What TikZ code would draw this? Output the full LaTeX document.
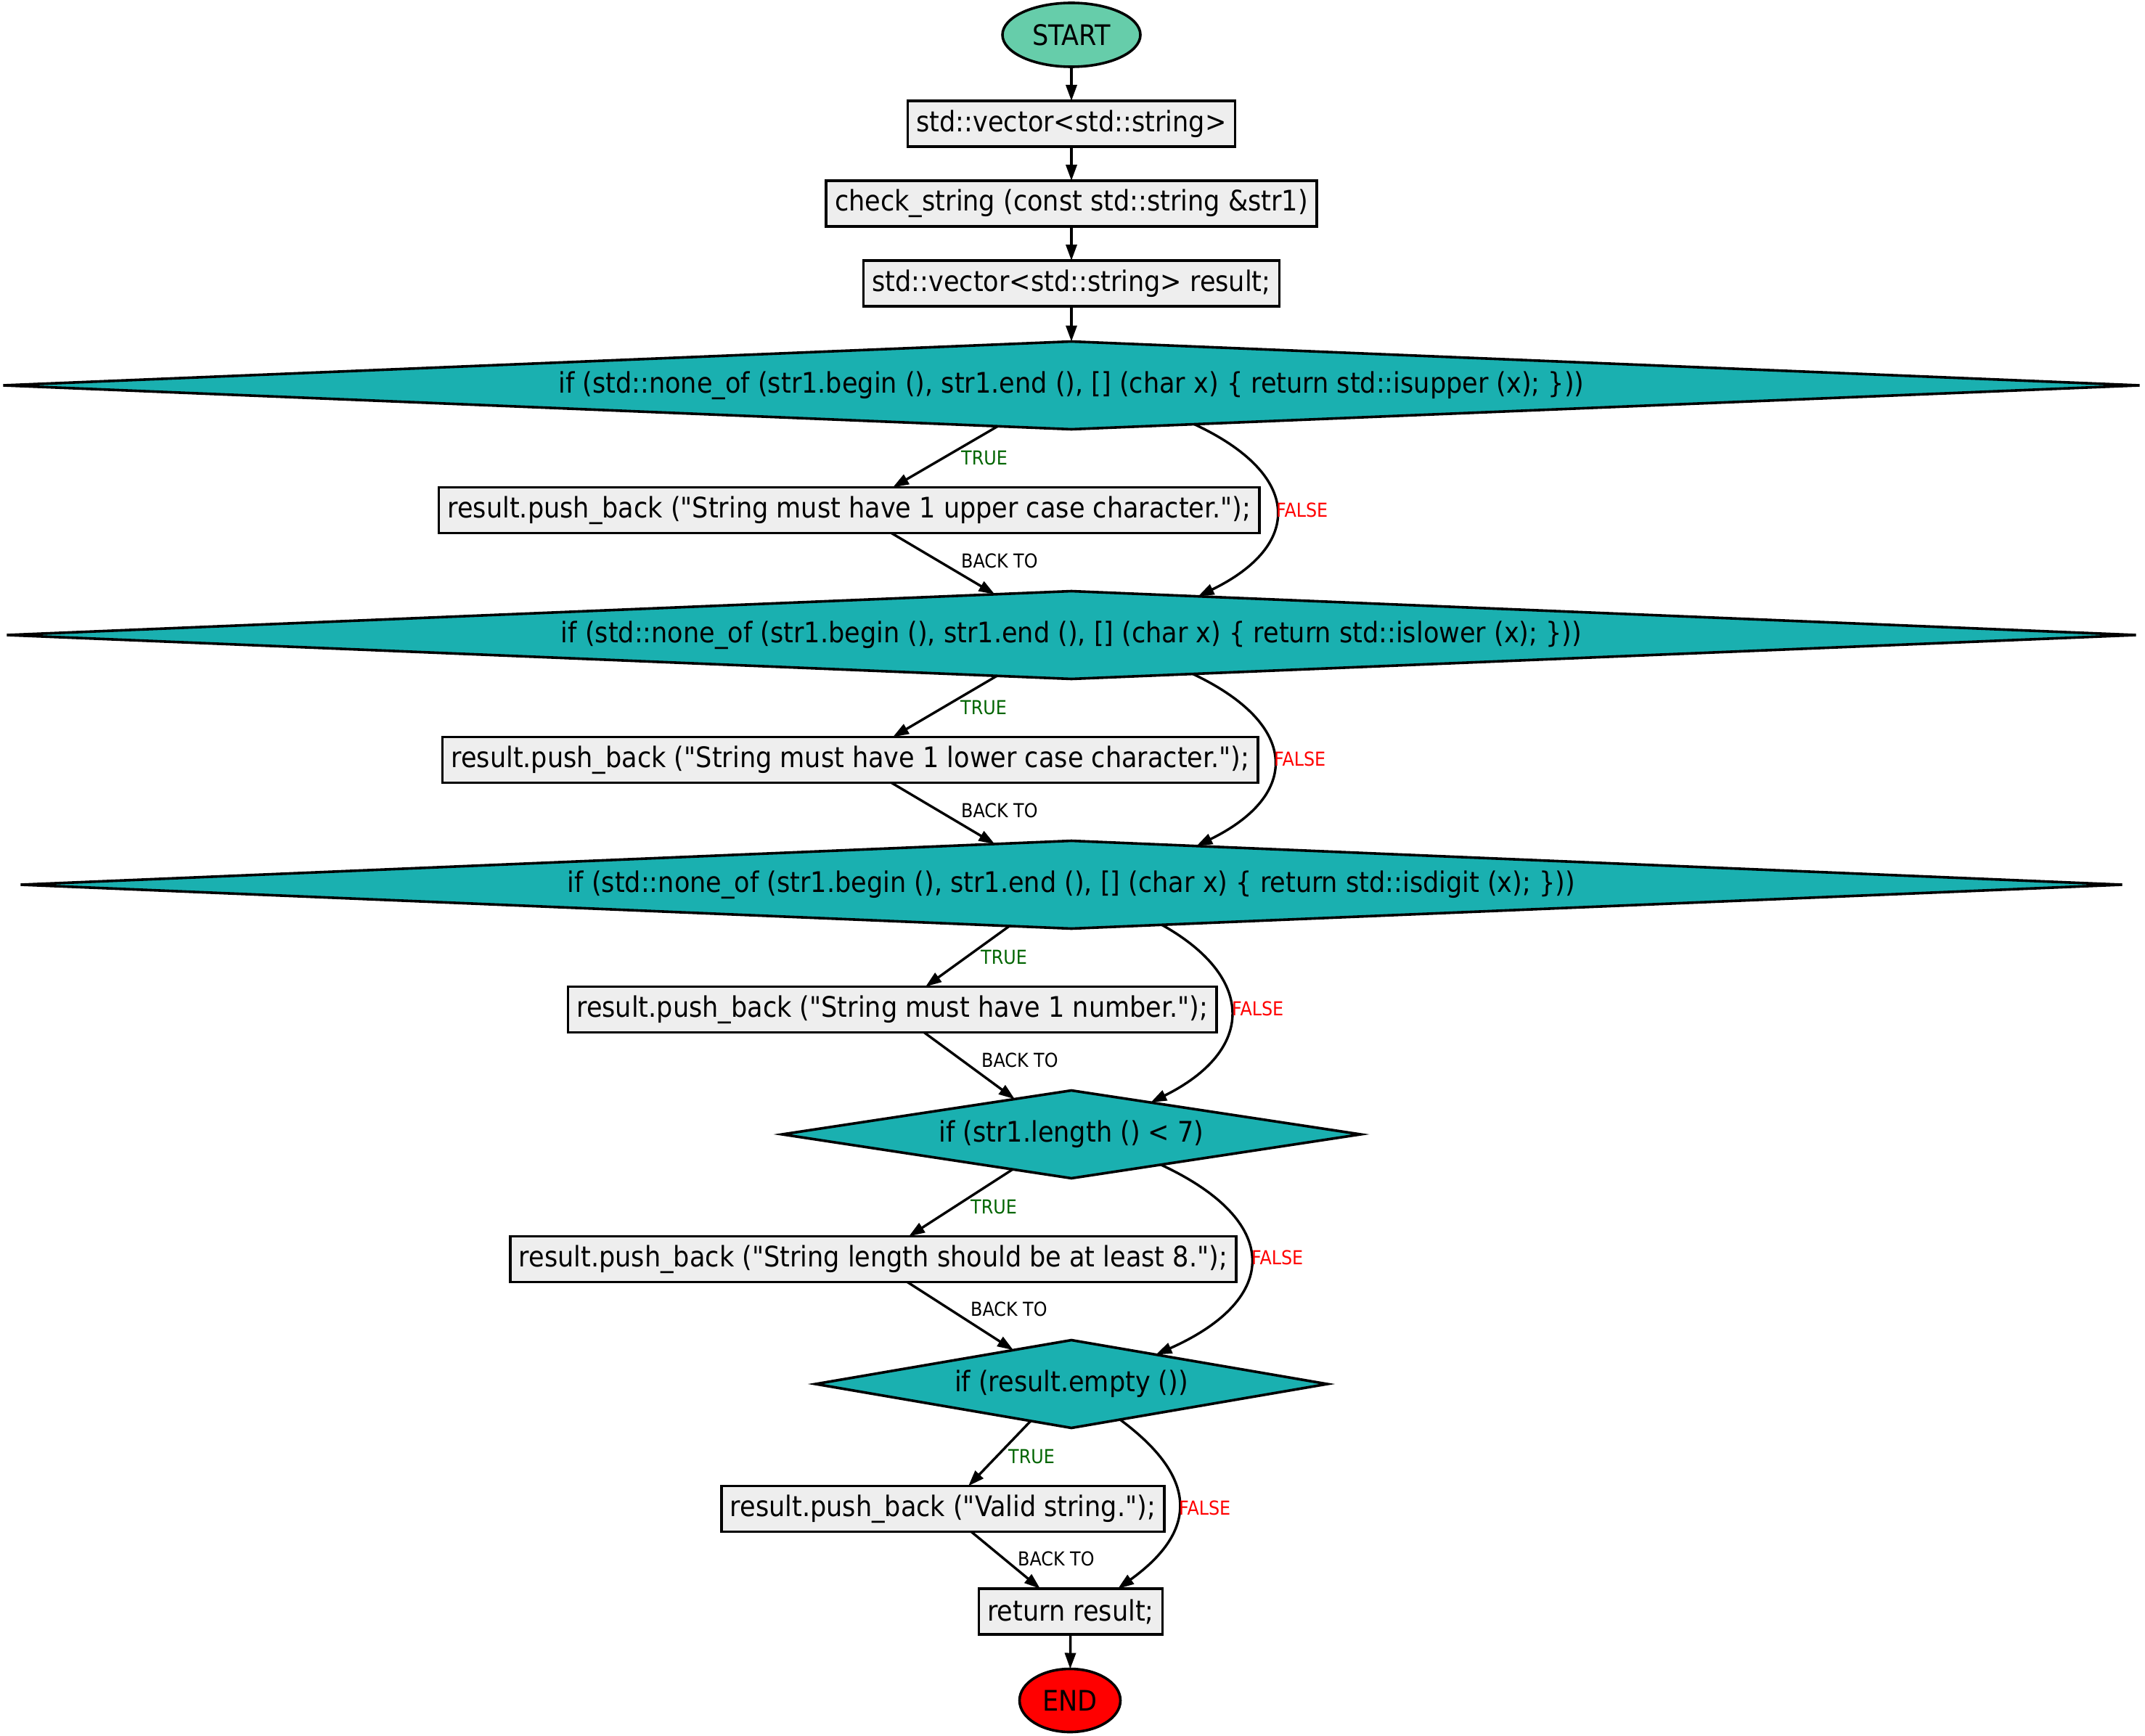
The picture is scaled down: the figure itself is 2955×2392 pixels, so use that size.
\documentclass[tikz,border=0pt]{standalone}
\usepackage{fontspec}
\newfontfamily\gvfont{DejaVu Sans Condensed}
\usetikzlibrary{shapes.geometric,arrows.meta,calc}
\definecolor{startfill}{HTML}{66CDAA}
\definecolor{condfill}{HTML}{1AB0B0}
\definecolor{stepfill}{HTML}{EEEEEE}
\definecolor{truegreen}{HTML}{006400}
\definecolor{endfill}{HTML}{FF0000}
\begin{document}
\begin{tikzpicture}[x=1pt,y=-1pt,
  every node/.style={font=\gvfont\fontsize{39}{47}\selectfont},
  terminal/.style={ellipse,draw,line width=3.6pt,inner sep=0pt,outer sep=0pt},
  stepbox/.style={rectangle,draw,line width=3.6pt,fill=stepfill,minimum height=63pt,inner xsep=12pt,inner ysep=0pt,outer sep=0pt},
  cond/.style={diamond,draw,line width=3.6pt,fill=condfill,inner sep=0pt,outer sep=0pt,minimum height=121pt},
  condtext/.style={inner sep=0pt},
  flow/.style={line width=3.4pt,-{Triangle[length=22pt,width=15pt]}},
  lbl/.style={inner sep=0pt,anchor=west,font=\gvfont\fontsize{26.5}{30}\selectfont},
  ltrue/.style={lbl,text=truegreen},
  lback/.style={lbl,text=black},
  lfalse/.style={lbl,text=red},
]
\useasboundingbox (0,0) rectangle (2955,2392);

% terminals
\node[terminal,fill=startfill,minimum width=190pt,minimum height=88pt] (start) at (1476,48) {START};
\node[terminal,fill=endfill,minimum width=139pt,minimum height=87pt] (end) at (1474,2343) {END};

% straight-line steps
\node[stepbox] (b1) at (1476,170.5) {std::vector<std::string>};
\node[stepbox] (b2) at (1476,280.5) {check\_string (const std::string \&str1)};
\node[stepbox] (b3) at (1476,390.5) {std::vector<std::string> result;};

% decisions
\node[cond,minimum width=2943pt] (d1) at (1476,531) {};
\node[condtext] (d1t) at (d1) {if (std::none\_of (str1.begin (), str1.end (), [] (char x) \{ return std::isupper (x); \}))};
\node[cond,minimum width=2933pt] (d2) at (1476,875) {};
\node[condtext] (d2t) at (d2) {if (std::none\_of (str1.begin (), str1.end (), [] (char x) \{ return std::islower (x); \}))};
\node[cond,minimum width=2895pt] (d3) at (1476,1219) {};
\node[condtext] (d3t) at (d3) {if (std::none\_of (str1.begin (), str1.end (), [] (char x) \{ return std::isdigit (x); \}))};
\node[cond,minimum width=797pt] (d4) at (1476,1563) {};
\node[condtext] (d4t) at (d4) {if (str1.length () < 7)};
\node[cond,minimum width=705pt] (d5) at (1476,1907) {};
\node[condtext] (d5t) at (d5) {if (result.empty ())};

% branch actions
\node[stepbox,anchor=east] (b4) at (1735,703) {result.push\_back ("String must have 1 upper case character.");};
\node[stepbox,anchor=east] (b5) at (1733,1047) {result.push\_back ("String must have 1 lower case character.");};
\node[stepbox,anchor=east] (b6) at (1676,1391) {result.push\_back ("String must have 1 number.");};
\node[stepbox,anchor=east] (b7) at (1703,1735) {result.push\_back ("String length should be at least 8.");};
\node[stepbox,anchor=east] (b8) at (1604,2079) {result.push\_back ("Valid string.");};
\node[stepbox] (b9) at (1475,2220.5) {return result;};

% main spine
\draw[flow] (start) -- (b1);
\draw[flow] (b1) -- (b2);
\draw[flow] (b2) -- (b3);
\draw[flow] (b3) -- (d1);
\draw[flow] (b9) -- (end);

% decision 1
\draw[flow] ($(d1.south)!0.069!(d1.west)$) -- ([xshift=-505pt]b4.north east);
\draw[flow] ([xshift=-507pt]b4.south east) -- ($(d2.north)!0.072!(d2.west)$);
\draw[flow] ($(d1.south)!0.115!(d1.east)$) .. controls +(150,70) and +(144,-70) .. ($(d2.north)!0.119!(d2.east)$);
\node[ltrue] (t1) at (1324,631) {TRUE};
\node[lback] (k1) at (1324,773) {BACK TO};
\node[lfalse] (f1) at (1758,703) {FALSE};

% decision 2
\draw[flow] ($(d2.south)!0.070!(d2.west)$) -- ([xshift=-503pt]b5.north east);
\draw[flow] ([xshift=-505pt]b5.south east) -- ($(d3.north)!0.073!(d3.west)$);
\draw[flow] ($(d2.south)!0.114!(d2.east)$) .. controls +(148,70) and +(143,-70) .. ($(d3.north)!0.119!(d3.east)$);
\node[ltrue] (t2) at (1323,975) {TRUE};
\node[lback] (k2) at (1324,1117) {BACK TO};
\node[lfalse] (f2) at (1755,1046) {FALSE};

% decision 3
\draw[flow] ($(d3.south)!0.059!(d3.west)$) -- ([xshift=-401pt]b6.north east);
\draw[flow] ([xshift=-403pt]b6.south east) -- ($(d4.north)!0.196!(d4.west)$);
\draw[flow] ($(d3.south)!0.086!(d3.east)$) .. controls +(129,72) and +(145,-72) .. ($(d4.north)!0.274!(d4.east)$);
\node[ltrue] (t3) at (1351,1319) {TRUE};
\node[lback] (k3) at (1352,1461) {BACK TO};
\node[lfalse] (f3) at (1697,1390) {FALSE};

% decision 4
\draw[flow] ($(d4.south)!0.203!(d4.west)$) -- ([xshift=-451pt]b7.north east);
\draw[flow] ([xshift=-453pt]b7.south east) -- ($(d5.north)!0.227!(d5.west)$);
\draw[flow] ($(d4.south)!0.309!(d4.east)$) .. controls +(166,77) and +(173,-77) .. ($(d5.north)!0.33!(d5.east)$);
\node[ltrue] (t4) at (1337,1663) {TRUE};
\node[lback] (k4) at (1337,1804) {BACK TO};
\node[lfalse] (f4) at (1724,1733) {FALSE};

% decision 5
\draw[flow] ($(d5.south)!0.159!(d5.west)$) -- ([xshift=-270pt]b8.north east);
\draw[flow] ([xshift=-266pt]b8.south east) -- ([xshift=-42pt]b9.north);
\draw[flow] ($(d5.south)!0.19!(d5.east)$) .. controls +(108,80) and +(111,-80) .. ([xshift=65pt]b9.north);
\node[ltrue] (t5) at (1389,2007) {TRUE};
\node[lback] (k5) at (1402,2148) {BACK TO};
\node[lfalse] (f5) at (1624,2078) {FALSE};
\end{tikzpicture}
\end{document}
